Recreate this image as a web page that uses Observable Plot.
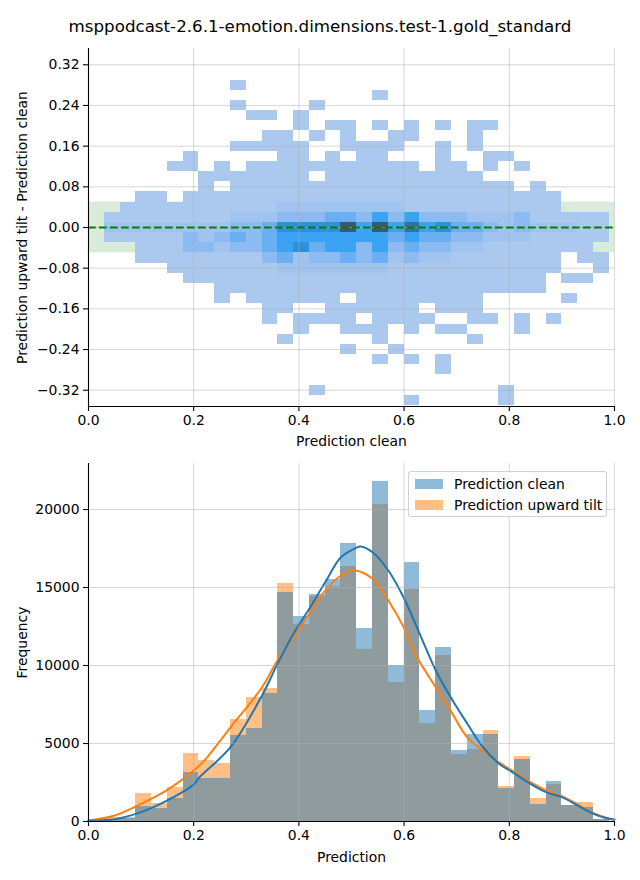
<!DOCTYPE html>
<html>
<head>
<meta charset="utf-8">
<script src="https://cdn.jsdelivr.net/npm/d3@7"></script>
<script src="https://cdn.jsdelivr.net/npm/@observablehq/plot@0.6"></script>
<style>
  html, body { margin: 0; padding: 0; background: #fff; }
  #wrap { position: relative; width: 640px; height: 880px; font-family: "DejaVu Sans", sans-serif; color: #000; }
  #title { position: absolute; left: 0; top: 16px; width: 640px; text-align: center; font-size: 16.7px; line-height: 20px; }
  #topChart { position: absolute; left: 0; top: 45px; }
  #bottomChart { position: absolute; left: 0; top: 455px; }
  #legend { position: absolute; left: 408px; top: 471px; width: 197px; height: 44px; border: 1px solid rgba(204,204,204,0.9); border-radius: 3px; background: rgba(255,255,255,0.8); font-size: 13.9px; }
  .li { position: absolute; left: 6px; height: 14px; line-height: 14px; white-space: nowrap; }
  .sw { display: inline-block; width: 28px; height: 10px; vertical-align: middle; margin-right: 11px; position: relative; top: -1px; }
</style>
</head>
<body>
<div id="wrap">
  <div id="title"></div>
  <div id="topChart"></div>
  <div id="bottomChart"></div>
  <div id="legend"></div>
</div>
<script>
// ---------- text ----------
const chartTitle = "msppodcast-2.6.1-emotion.dimensions.test-1.gold_standard";
const topXLabel = "Prediction clean";
const topYLabel = "Prediction upward tilt - Prediction clean";
const bottomXLabel = "Prediction";
const bottomYLabel = "Frequency";
const seriesNames = ["Prediction clean", "Prediction upward tilt"];
const seriesColors = ["#1f77b4", "#ff7f0e"];

// ---------- ticks ----------
const xTicks = [0, 0.2, 0.4, 0.6, 0.8, 1.0];
const topYTicks = [-0.32, -0.24, -0.16, -0.08, 0, 0.08, 0.16, 0.24, 0.32];
const bottomYTicks = [0, 5000, 10000, 15000, 20000];
const topYDomain = [-0.352, 0.352];
const bottomYDomain = [0, 22950];

// ---------- 2D histogram (top) ----------
const xBinWidth = 0.03;           // bins of Prediction clean
const diffBinHeight = 0.02;       // bins of the difference
const diffRowCenters = [0.34, 0.32, 0.30, 0.28, 0.26, 0.24, 0.22, 0.20, 0.18, 0.16, 0.14, 0.12, 0.10, 0.08, 0.06, 0.04, 0.02, 0.00,
  -0.02, -0.04, -0.06, -0.08, -0.10, -0.12, -0.14, -0.16, -0.18, -0.20, -0.22, -0.24, -0.26, -0.28, -0.30, -0.32, -0.34];
// one string per row, one character per x bin (33 bins); '.' = empty, 1..8 = count level
const heatRows = [
  "........... ........... ...........",
  "........... ........... ...........",
  "........... ........... ...........",
  ".........1. ........... ...........",
  "........... .......1... ...........",
  ".........1. ...1....... ...........",
  "..........1 1.1........ ...........",
  "........... ..1.11.1.1. 1.11.......",
  "........... 11.1.1..11. ..1........",
  ".........11 111..1111.. 1.1........",
  "......1.... .11.1.11... 1..11......",
  ".....11.1.1 1111111111. 11.1.1.....",
  ".......1111 111.1111111 111........",
  ".......1.11 11111111111 11111.1....",
  "...11.11111 11111111111 11111111...",
  "..111111111 12222222211 11111111...",
  ".1111111122 23334435353 33222311111",
  ".2222222233 46666858575 64432322211",
  ".1111132343 45555555454 43322211111",
  "...11133233 45645535343 3221111111.",
  "...11111111 34233434232 21111111.11",
  ".....111111 12222222111 11111111..1",
  "......11111 11111111111 1111111.11.",
  "........111 11111111111 1111111....",
  "........1.1 11111.11111 111.....1..",
  "........... 11..111111. 111........",
  "........... 1.1111.1111 ..11.1.1...",
  "........... ..1..111.1. 11...1.....",
  "........... .1.....1... ..1........",
  "........... .....1..1.. ...........",
  "........... .......1.1. 1..........",
  "........... ........... 1..........",
  "........... ........... ...........",
  "........... ...1....... ....1......",
  "........... .........1. ....1......"
];
const levelValues = [1, 2, 3, 4, 5, 6, 7, 8];
const levelPalette = ["#abc9ee", "#a0c4ef", "#8bbbf1", "#6aaff2", "#3ba3f4", "#2d90d8", "#36729f", "#3d5770"];
const bandLimits = [-0.05, 0.05];
const zeroLine = [0];

// ---------- 1D histograms (bottom), bins of 0.03 from 0 to 0.99 ----------
const cleanCounts = [60, 130, 200, 980, 810, 1490, 3140, 2780, 2780, 5510, 5980, 8230, 14680, 13160, 14550, 15510, 17820,
  12350, 21800, 10000, 16600, 7115, 11150, 4550, 5580, 5580, 2140, 3970, 1090, 2560, 1050, 920, 130];
const tiltCounts = [80, 280, 280, 1780, 1170, 2180, 4340, 3900, 3700, 6540, 7950, 8500, 15250, 12630, 14450, 15060, 16350,
  11030, 20300, 8930, 14870, 6300, 10640, 4320, 4620, 5830, 2265, 4170, 1470, 2370, 1030, 1220, 100];

// ---------- KDE curves ----------
const kdeCleanX = [0, 0.05, 0.10, 0.15, 0.20, 0.21, 0.27, 0.33, 0.36, 0.39, 0.42, 0.45, 0.48, 0.51, 0.517, 0.54, 0.57, 0.60,
  0.63, 0.66, 0.69, 0.72, 0.75, 0.78, 0.81, 0.84, 0.87, 0.90, 0.93, 0.96, 0.99, 1.0];
const kdeCleanY = [50, 150, 600, 1350, 2370, 2800, 4760, 8080, 10150, 12050, 13650, 15340, 16940, 17560, 17630, 17260, 16090, 14300,
  12000, 9700, 7880, 6280, 4760, 3720, 3080, 2420, 1880, 1560, 1025, 490, 170, 120];
const kdeTiltX = [0, 0.05, 0.10, 0.15, 0.20, 0.22, 0.27, 0.33, 0.36, 0.39, 0.42, 0.45, 0.48, 0.505, 0.54, 0.57, 0.60, 0.62,
  0.66, 0.69, 0.72, 0.75, 0.78, 0.81, 0.84, 0.87, 0.90, 0.93, 0.96, 0.99, 1.0];
const kdeTiltY = [60, 385, 1130, 2030, 3270, 3900, 6040, 8610, 10370, 11810, 13330, 14800, 15770, 16090, 15560, 14170, 12400, 10800,
  8610, 7010, 5400, 4550, 3800, 3160, 2520, 1990, 1620, 1090, 530, 180, 130];

// ---------- build tables ----------
const cells = [];
heatRows.forEach((row, i) => {
  const s = row.replace(/ /g, "");
  for (let c = 0; c < s.length; c++) {
    if (s[c] === ".") continue;
    cells.push({
      x1: c * xBinWidth, x2: (c + 1) * xBinWidth,
      y1: diffRowCenters[i] - diffBinHeight / 2, y2: diffRowCenters[i] + diffBinHeight / 2,
      level: +s[c]
    });
  }
});
const histRows = (counts, name) => counts.map((v, i) => ({x1: i * xBinWidth, x2: (i + 1) * xBinWidth, y: v, series: name}));
const cleanBars = histRows(cleanCounts, seriesNames[0]);
const tiltBars = histRows(tiltCounts, seriesNames[1]);
const kdeClean = kdeCleanX.map((x, i) => ({x, y: kdeCleanY[i]}));
const kdeTilt = kdeTiltX.map((x, i) => ({x, y: kdeTiltY[i]}));

const gridStyle = {stroke: "#b0b0b0", strokeOpacity: 0.5, strokeWidth: 1};
const style = {fontFamily: "DejaVu Sans, sans-serif", fontSize: "13.9px", color: "#000", background: "transparent", overflow: "visible"};

document.getElementById("title").textContent = chartTitle;

// ---------- top chart ----------
const topChart = Plot.plot({
  width: 640, height: 410,
  marginLeft: 88, marginRight: 26, marginTop: 3, marginBottom: 49,
  style,
  x: {domain: [0, 1]},
  y: {domain: topYDomain},
  color: {type: "ordinal", domain: levelValues, range: levelPalette},
  marks: [
    Plot.rect([bandLimits], {x1: 0, x2: 1, y1: d => d[0], y2: d => d[1], fill: "green", fillOpacity: 0.15}),
    Plot.rect(cells, {x1: "x1", x2: "x2", y1: "y1", y2: "y2", fill: "level", inset: 0, shapeRendering: "crispEdges"}),
    Plot.gridX(xTicks, gridStyle),
    Plot.gridY(topYTicks, gridStyle),
    Plot.ruleY(zeroLine, {stroke: "green", strokeWidth: 2.1, strokeDasharray: "7.7,3.3"}),
    Plot.axisX(xTicks, {tickFormat: d3.format(".1f"), tickSize: 5, tickPadding: 4, strokeWidth: 1.1, label: null}),
    Plot.axisY(topYTicks, {tickFormat: d3.format(".2f"), tickSize: 5, tickPadding: 4, strokeWidth: 1.1, label: null}),
    Plot.ruleX([0], {stroke: "#000", strokeWidth: 1.1}),
    Plot.ruleY([topYDomain[0]], {stroke: "#000", strokeWidth: 1.1}),
    Plot.text([topXLabel], {frameAnchor: "bottom", dy: 35, lineAnchor: "middle", fontSize: 13.9}),
    Plot.text([topYLabel], {frameAnchor: "left", dx: -66, rotate: -90, lineAnchor: "middle", textAnchor: "middle", fontSize: 13.9})
  ]
});
document.getElementById("topChart").appendChild(topChart);

// ---------- bottom chart ----------
const bottomChart = Plot.plot({
  width: 640, height: 425,
  marginLeft: 88, marginRight: 26, marginTop: 8, marginBottom: 59,
  style,
  x: {domain: [0, 1]},
  y: {domain: bottomYDomain},
  marks: [
    Plot.rect(tiltBars, {x1: "x1", x2: "x2", y1: 0, y2: "y", fill: seriesColors[1], fillOpacity: 0.5, inset: 0, shapeRendering: "crispEdges"}),
    Plot.rect(cleanBars, {x1: "x1", x2: "x2", y1: 0, y2: "y", fill: seriesColors[0], fillOpacity: 0.5, inset: 0, shapeRendering: "crispEdges"}),
    Plot.line(kdeTilt, {x: "x", y: "y", stroke: seriesColors[1], strokeWidth: 2, curve: "catmull-rom"}),
    Plot.line(kdeClean, {x: "x", y: "y", stroke: seriesColors[0], strokeWidth: 2, curve: "catmull-rom"}),
    Plot.gridX(xTicks, gridStyle),
    Plot.gridY(bottomYTicks, gridStyle),
    Plot.axisX(xTicks, {tickFormat: d3.format(".1f"), tickSize: 5, tickPadding: 4, strokeWidth: 1.1, label: null}),
    Plot.axisY(bottomYTicks, {tickFormat: d3.format("d"), tickSize: 5, tickPadding: 4, strokeWidth: 1.1, label: null}),
    Plot.ruleX([0], {stroke: "#000", strokeWidth: 1.1}),
    Plot.ruleY([0], {stroke: "#000", strokeWidth: 1.1}),
    Plot.text([bottomXLabel], {frameAnchor: "bottom", dy: 36, lineAnchor: "middle", fontSize: 13.9}),
    Plot.text([bottomYLabel], {frameAnchor: "left", dx: -66, rotate: -90, lineAnchor: "middle", textAnchor: "middle", fontSize: 13.9})
  ]
});
document.getElementById("bottomChart").appendChild(bottomChart);

// ---------- legend ----------
const legend = document.getElementById("legend");
seriesNames.forEach((name, i) => {
  const item = document.createElement("div");
  item.className = "li";
  item.style.top = (i === 0 ? 5 : 26) + "px";
  const sw = document.createElement("span");
  sw.className = "sw";
  sw.style.background = seriesColors[i];
  sw.style.opacity = 0.5;
  item.appendChild(sw);
  item.appendChild(document.createTextNode(name));
  legend.appendChild(item);
});
</script>
</body>
</html>
